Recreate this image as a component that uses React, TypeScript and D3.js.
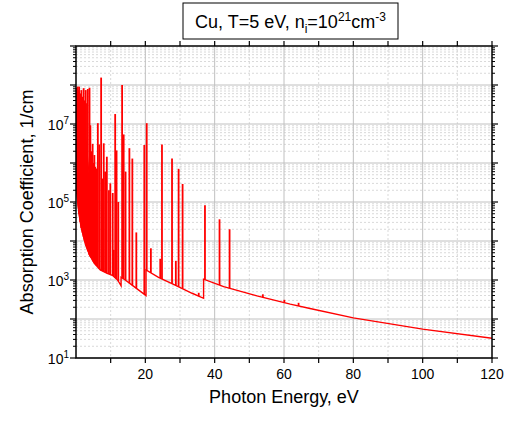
import React from "react";
import * as d3 from "d3";

// continuum (photon energy eV, absorption 1/cm); repeated energies are absorption edges
const continuum: [number, number][] = [
  [0.3, 158000], [0.6, 79400], [1.0, 41700], [1.5, 22400], [2.4, 10700], [3.0, 7080],
  [3.9, 4370], [5.3, 2690], [7.0, 1820], [9.0, 1480], [10.5, 1320], [12.0, 1000], [13.0, 710],
  [13.0, 1175], [14.2, 1000], [16.0, 760], [18.1, 550], [20.2, 400],
  [20.2, 1820], [23.8, 1175], [28.6, 740], [33.5, 457], [36.8, 340],
  [36.8, 1050], [42.6, 676], [52.2, 390], [61.8, 240], [67.5, 186], [80, 107], [100, 55], [120, 32],
];

// upper edge of the unresolved line forest at low energy
const forestTop: [number, number][] = [
  [0.3, 8.0e7], [1.0, 6.5e7], [1.6, 4.0e7], [2.0, 1.6e7], [2.6, 6.0e6], [3.2, 2.0e6],
  [3.7, 6.0e5], [4.2, 2.0e5],
];

// discrete lines: energy, peak
const lineEnergy = [
  0.15, 0.5, 0.9, 1.25, 1.55, 1.9, 2.2, 2.5, 2.8, 2.9, 3.4, 3.9, 4.15, 4.4, 4.8, 5.0, 5.3, 5.55,
  5.8, 6.0, 6.3, 6.7, 7.25, 7.6, 8.0, 8.4, 8.9, 9.5, 9.9, 10.6, 10.9, 11.3, 11.7, 12.2,
  13.3, 13.75, 14.3, 15.4, 16.25, 17.4, 19.7, 20.4, 21.6,
  24.3, 24.8, 27.7, 28.8, 29.6, 30.75, 35.4, 37.2, 41.4, 44.3, 53.9, 60.1, 64.2,
];
const linePeak = [
  8.5e7, 9.1e7, 9.1e7, 6.0e7, 7.4e7, 5.0e7, 8.3e7, 4.0e7, 7.4e7, 3.4e7, 7.9e7, 8.5e7, 9.3e6, 2.0e6, 3.1e6, 1.0e6, 1.6e6, 8.0e5,
  7.2e5, 5.0e5, 1.05e7, 3.0e6, 1.55e8, 4.0e5, 3.2e6, 6.0e5, 1.45e6, 2.0e5, 3.0e5, 1.7e5, 5900, 1.8e7, 2.1e6, 1.0e5,
  1.0e8, 5.4e6, 6.0e5, 2.4e6, 1.3e6, 1.66e4, 2.9e6, 1.05e7, 6500,
  3500, 3.0e6, 1.3e6, 3100, 7.1e5, 2.9e5, 470, 8.3e4, 3.6e4, 2.0e4, 430, 310, 260,
];

const xTicks = [10, 20, 30, 40, 50, 60, 70, 80, 90, 100, 110, 120];
const xLabels = [20, 40, 60, 80, 100, 120];
const xMajorGrid = [20, 40, 60, 80, 100];
const yExps = [1, 2, 3, 4, 5, 6, 7, 8, 9];
const yLabelExps = [1, 3, 5, 7];

const L = 76, R = 492, T = 46, B = 358;
const FONT = "'Liberation Sans', Arial, Helvetica, sans-serif";
const RED = "#ff0000";

const x = d3.scaleLinear().domain([0, 120]).range([L, R]);
const y = d3.scaleLog().domain([10, 1e9]).range([B, T]);

const yMinor: number[] = [];
for (let e = 1; e <= 8; e++) for (let k = 2; k <= 9; k++) yMinor.push(k * Math.pow(10, e));

// continuum value under a line, on the log scale
function baseAt(e: number): number {
  for (let i = 0; i < continuum.length - 1; i++) {
    const [e0, v0] = continuum[i];
    const [e1, v1] = continuum[i + 1];
    if (e1 === e0) continue;
    if (e >= e0 && e < e1) {
      const t = (e - e0) / (e1 - e0);
      return Math.pow(10, Math.log10(v0) + t * (Math.log10(v1) - Math.log10(v0)));
    }
  }
  return e < continuum[0][0] ? continuum[0][1] : continuum[continuum.length - 1][1];
}

export default function App() {
  const line = d3
    .line<[number, number]>()
    .x((d) => x(d[0]))
    .y((d) => y(d[1]));

  const forestPoly: [number, number][] = [
    ...forestTop,
    [4.2, baseAt(4.2)],
    ...continuum.filter((d) => d[0] < 4.2).slice().reverse(),
  ];

  return (
    <svg
      width={508}
      height={421}
      style={{ position: "absolute", left: 0, top: 0, background: "#fff" }}
      fontFamily={FONT}
    >
      <defs>
        <clipPath id="plot">
          <rect x={L} y={T} width={R - L} height={B - T} />
        </clipPath>
      </defs>

      {/* grid */}
      {yMinor.map((v) => (
        <line key={"ym" + v} x1={L} x2={R} y1={y(v)} y2={y(v)} stroke="#cfcfcf" strokeWidth={0.8} strokeDasharray="2,2" />
      ))}
      {xTicks.filter((t) => !xMajorGrid.includes(t) && t < 120).map((t) => (
        <line key={"xm" + t} x1={x(t)} x2={x(t)} y1={T} y2={B} stroke="#cfcfcf" strokeWidth={0.8} strokeDasharray="2,2" />
      ))}
      {yExps.slice(0, 8).map((e) => (
        <line key={"yM" + e} x1={L} x2={R} y1={y(Math.pow(10, e))} y2={y(Math.pow(10, e))} stroke="#c0c0c0" strokeWidth={1} />
      ))}
      {xMajorGrid.map((t) => (
        <line key={"xM" + t} x1={x(t)} x2={x(t)} y1={T} y2={B} stroke="#c0c0c0" strokeWidth={1} />
      ))}

      {/* data */}
      <g clipPath="url(#plot)">
        <path d={line(forestPoly) + "Z"} fill={RED} stroke={RED} strokeWidth={1} />
        {lineEnergy.map((e, i) => (
          <line
            key={"l" + i}
            x1={x(e)}
            x2={x(e)}
            y1={y(baseAt(e))}
            y2={y(linePeak[i])}
            stroke={RED}
            strokeWidth={1.8}
          />
        ))}
        <path d={line(continuum) || ""} fill="none" stroke={RED} strokeWidth={1.4} />
      </g>

      {/* frame */}
      <rect x={L} y={T} width={R - L} height={B - T} fill="none" stroke="#000" strokeWidth={1.5} />

      {/* x ticks */}
      {xTicks.map((t) => (
        <g key={"xt" + t}>
          <line x1={x(t)} x2={x(t)} y1={B} y2={B + 5} stroke="#000" strokeWidth={1.2} />
          <line x1={x(t)} x2={x(t)} y1={T} y2={T - 5} stroke="#000" strokeWidth={1.2} />
        </g>
      ))}
      {xLabels.map((t) => (
        <text key={"xl" + t} x={x(t)} y={379} textAnchor="middle" fontSize={14} fill="#000">
          {t}
        </text>
      ))}

      {/* y ticks */}
      {yExps.map((e) => {
        const yy = y(Math.pow(10, e));
        return (
          <g key={"yt" + e}>
            <line x1={L} x2={L - 6} y1={yy} y2={yy} stroke="#000" strokeWidth={1.2} />
            <line x1={R} x2={R + 6} y1={yy} y2={yy} stroke="#000" strokeWidth={1.2} />
          </g>
        );
      })}
      {yMinor.map((v) => (
        <g key={"ymt" + v}>
          <line x1={L} x2={L - 3} y1={y(v)} y2={y(v)} stroke="#000" strokeWidth={1} />
          <line x1={R} x2={R + 3} y1={y(v)} y2={y(v)} stroke="#000" strokeWidth={1} />
        </g>
      ))}
      {yLabelExps.map((e) => (
        <text key={"yl" + e} x={69} y={y(Math.pow(10, e)) + 6} textAnchor="end" fontSize={14} fill="#000">
          <tspan>10</tspan>
          <tspan dy={-6} fontSize={10}>
            {e}
          </tspan>
        </text>
      ))}

      {/* axis titles */}
      <text x={(L + R) / 2} y={403} textAnchor="middle" fontSize={18} fill="#000">
        Photon Energy, eV
      </text>
      <text
        transform={`translate(33, ${(T + B) / 2}) rotate(-90)`}
        textAnchor="middle"
        fontSize={18}
        fill="#000"
      >
        Absorption Coefficient, 1/cm
      </text>

      {/* title box */}
      <rect x={183} y={3} width={215} height={36} fill="#fff" stroke="#000" strokeWidth={1} />
      <text x={290.5} y={28} textAnchor="middle" fontSize={18} fill="#000">
        <tspan>Cu, T=5 eV, n</tspan>
        <tspan dy={5} fontSize={12}>i</tspan>
        <tspan dy={-5}>=10</tspan>
        <tspan dy={-7} fontSize={12}>21</tspan>
        <tspan dy={7}>cm</tspan>
        <tspan dy={-7} fontSize={12}>-3</tspan>
      </text>
    </svg>
  );
}
